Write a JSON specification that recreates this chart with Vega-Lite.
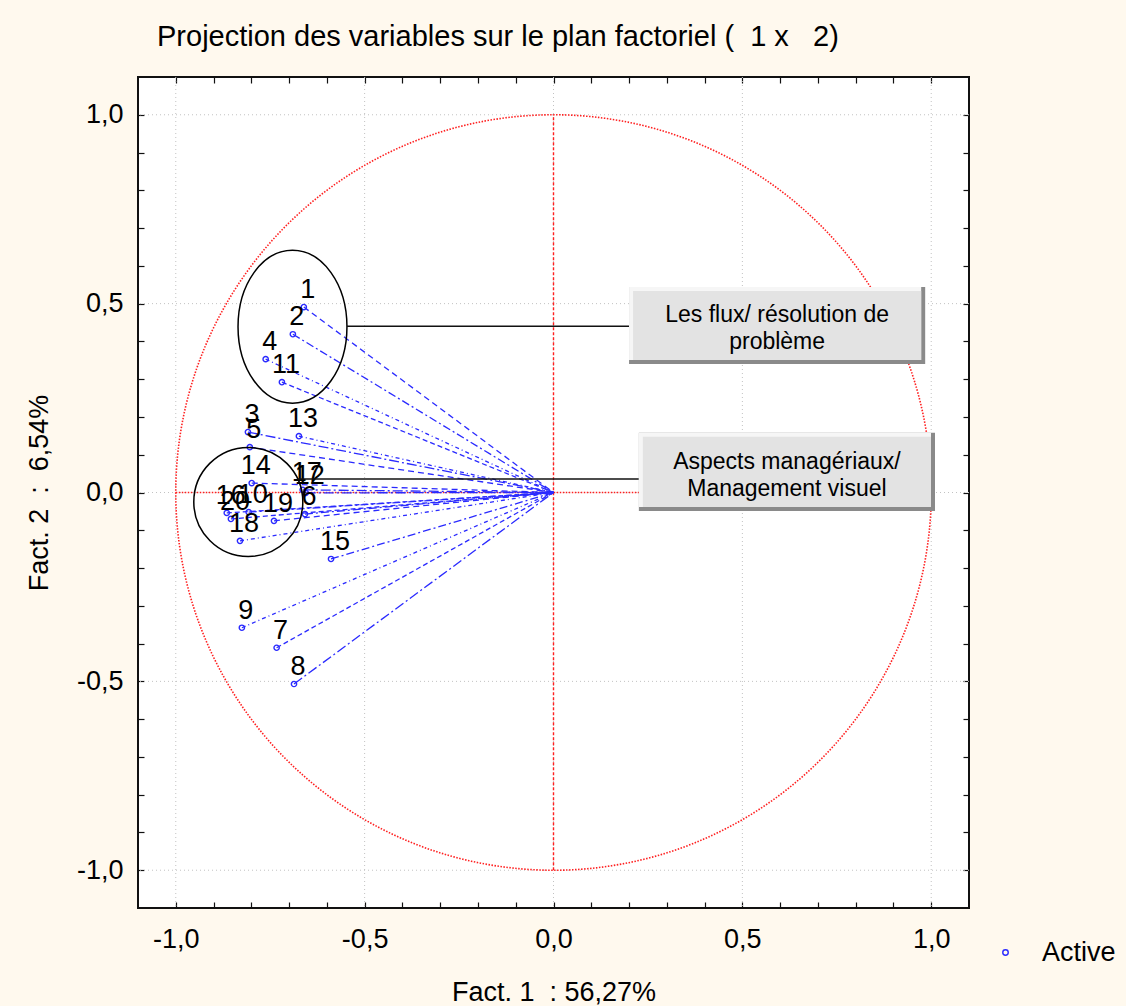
{
  "$schema": "https://vega.github.io/schema/vega-lite/v6.json",
  "width": 831,
  "height": 831,
  "autosize": "none",
  "padding": {"left": 138, "top": 77, "right": 157, "bottom": 98},
  "background": "#fff9ee",
  "config": {
    "font": "Liberation Sans",
    "view": {"fill": "white", "stroke": "#111111", "strokeWidth": 2},
    "locale": {"number": {"decimal": ",", "thousands": " ", "grouping": [3], "currency": ["", " €"], "minus": "-"}},
    "axis": {
      "domain": false, "grid": false, "tickSize": -6, "tickColor": "#111111", "tickWidth": 1.2,
      "labelFont": "Liberation Sans", "labelFontSize": 27, "labelColor": "#000000",
      "labelOverlap": false, "labelFlush": false,
      "titleFont": "Liberation Sans", "titleFontSize": 27, "titleFontWeight": "normal", "titleColor": "#000000"
    }
  },
  "title": {
    "text": "Projection des variables sur le plan factoriel ( \u00a01 x \u00a0 2)",
    "anchor": "start", "frame": "group", "dx": 19, "offset": 1, "baseline": "alphabetic",
    "fontSize": 29, "fontWeight": "normal", "color": "#000000", "font": "Liberation Sans"
  },
  "datasets": {
    "vars": [
      {"id": "1", "x": -0.661, "y": 0.491, "type": "Active"},
      {"id": "2", "x": -0.690, "y": 0.419, "type": "Active"},
      {"id": "3", "x": -0.809, "y": 0.160, "type": "Active"},
      {"id": "4", "x": -0.762, "y": 0.353, "type": "Active"},
      {"id": "5", "x": -0.804, "y": 0.120, "type": "Active"},
      {"id": "6", "x": -0.658, "y": -0.057, "type": "Active"},
      {"id": "7", "x": -0.733, "y": -0.411, "type": "Active"},
      {"id": "8", "x": -0.687, "y": -0.507, "type": "Active"},
      {"id": "9", "x": -0.825, "y": -0.358, "type": "Active"},
      {"id": "10", "x": -0.807, "y": -0.052, "type": "Active"},
      {"id": "11", "x": -0.719, "y": 0.292, "type": "Active"},
      {"id": "12", "x": -0.656, "y": -0.001, "type": "Active"},
      {"id": "13", "x": -0.674, "y": 0.149, "type": "Active"},
      {"id": "14", "x": -0.799, "y": 0.025, "type": "Active"},
      {"id": "15", "x": -0.589, "y": -0.176, "type": "Active"},
      {"id": "16", "x": -0.865, "y": -0.054, "type": "Active"},
      {"id": "17", "x": -0.664, "y": 0.007, "type": "Active"},
      {"id": "18", "x": -0.830, "y": -0.128, "type": "Active"},
      {"id": "19", "x": -0.740, "y": -0.075, "type": "Active"},
      {"id": "20", "x": -0.854, "y": -0.070, "type": "Active"}
    ],
    "grid": [{"v": -1}, {"v": -0.5}, {"v": 0}, {"v": 0.5}, {"v": 1}],
    "origin": [{"x": 0, "y": 0}],
    "links": [
      {"x": -0.547, "x2": 0.200, "y": 0.440},
      {"x": -0.678, "x2": 0.226, "y": 0.036}
    ],
    "boxes": [
      {"x": 0.200, "x2": 0.984, "y": 0.544, "y2": 0.340, "xc": 0.592, "yc": 0.470, "text": "Les flux/ résolution de\nproblème"},
      {"x": 0.226, "x2": 1.010, "y": 0.158, "y2": -0.049, "xc": 0.618, "yc": 0.081, "text": "Aspects managériaux/\nManagement visuel"}
    ]
  },
  "layer": [
    {
      "data": {"name": "vars"},
      "mark": {"type": "point", "opacity": 0},
      "encoding": {
        "x": {
          "field": "x", "type": "quantitative",
          "scale": {"domain": [-1.1, 1.1], "nice": false, "zero": false},
          "axis": {
            "orient": "bottom",
            "values": [-1, -0.9, -0.8, -0.7, -0.6, -0.5, -0.4, -0.3, -0.2, -0.1, 0, 0.1, 0.2, 0.3, 0.4, 0.5, 0.6, 0.7, 0.8, 0.9, 1],
            "format": ".1f",
            "labelExpr": "abs(datum.value*2-round(datum.value*2))<0.01 ? datum.label : ''",
            "labelPadding": 24,
            "title": "Fact. 1 \u00a0: 56,27%",
            "titlePadding": 27
          }
        },
        "y": {
          "field": "y", "type": "quantitative",
          "scale": {"domain": [-1.1, 1.1], "nice": false, "zero": false},
          "axis": {
            "orient": "left",
            "values": [-1, -0.9, -0.8, -0.7, -0.6, -0.5, -0.4, -0.3, -0.2, -0.1, 0, 0.1, 0.2, 0.3, 0.4, 0.5, 0.6, 0.7, 0.8, 0.9, 1],
            "format": ".1f",
            "labelExpr": "abs(datum.value*2-round(datum.value*2))<0.01 ? datum.label : ''",
            "labelPadding": 21,
            "title": "Fact. 2 \u00a0: \u00a06,54%",
            "titlePadding": 23
          }
        }
      }
    },
    {
      "data": {"name": "vars"},
      "mark": {"type": "point", "opacity": 0},
      "encoding": {
        "x": {
          "field": "x", "type": "quantitative",
          "axis": {
            "orient": "top", "labels": false, "title": null,
            "values": [-1, -0.9, -0.8, -0.7, -0.6, -0.5, -0.4, -0.3, -0.2, -0.1, 0, 0.1, 0.2, 0.3, 0.4, 0.5, 0.6, 0.7, 0.8, 0.9, 1]
          }
        },
        "y": {
          "field": "y", "type": "quantitative",
          "axis": {
            "orient": "right", "labels": false, "title": null,
            "values": [-1, -0.9, -0.8, -0.7, -0.6, -0.5, -0.4, -0.3, -0.2, -0.1, 0, 0.1, 0.2, 0.3, 0.4, 0.5, 0.6, 0.7, 0.8, 0.9, 1]
          }
        }
      }
    },
    {
      "data": {"name": "grid"},
      "mark": {"type": "rule", "color": "#c2c2c2", "strokeDash": [1, 3], "strokeWidth": 1},
      "encoding": {"x": {"field": "v", "type": "quantitative", "axis": null}}
    },
    {
      "data": {"name": "grid"},
      "mark": {"type": "rule", "color": "#c2c2c2", "strokeDash": [1, 3], "strokeWidth": 1},
      "encoding": {"y": {"field": "v", "type": "quantitative", "axis": null}}
    },
    {
      "data": {"name": "origin"},
      "mark": {"type": "point", "shape": "circle", "filled": false, "size": 570780, "color": "#ff2020", "strokeWidth": 1.6, "strokeDash": [1.5, 1.5], "opacity": 1},
      "encoding": {
        "x": {"field": "x", "type": "quantitative", "axis": null},
        "y": {"field": "y", "type": "quantitative", "axis": null}
      }
    },
    {
      "data": {"values": [{"x": -1, "x2": 1, "y": 0}]},
      "mark": {"type": "rule", "color": "#ff2020", "strokeWidth": 1.6, "strokeDash": [1.5, 1.5]},
      "encoding": {
        "x": {"field": "x", "type": "quantitative", "axis": null},
        "x2": {"field": "x2"},
        "y": {"field": "y", "type": "quantitative", "axis": null}
      }
    },
    {
      "data": {"values": [{"x": 0, "y": -1, "y2": 1}]},
      "mark": {"type": "rule", "color": "#ff2020", "strokeWidth": 1.4, "strokeDash": [3, 2]},
      "encoding": {
        "x": {"field": "x", "type": "quantitative", "axis": null},
        "y": {"field": "y", "type": "quantitative", "axis": null},
        "y2": {"field": "y2"}
      }
    },
    {
      "data": {"name": "vars"},
      "mark": {"type": "rule", "color": "#2a2aff", "strokeWidth": 1.3},
      "encoding": {
        "x": {"field": "x", "type": "quantitative", "axis": null},
        "y": {"field": "y", "type": "quantitative", "axis": null},
        "x2": {"datum": 0},
        "y2": {"datum": 0},
        "strokeDash": {
          "field": "id", "type": "nominal", "legend": null,
          "scale": {"range": [[6, 4], [8, 3, 2, 3], [5, 3], [10, 3, 2, 3], [4, 3, 1, 3]]}
        }
      }
    },
    {
      "data": {"name": "vars"},
      "mark": {"type": "point", "shape": "circle", "filled": false, "size": 28, "strokeWidth": 1.4, "opacity": 1},
      "encoding": {
        "x": {"field": "x", "type": "quantitative", "axis": null},
        "y": {"field": "y", "type": "quantitative", "axis": null},
        "color": {
          "field": "type", "type": "nominal",
          "scale": {"domain": ["Active"], "range": ["#2a2aff"]},
          "legend": {
            "orient": "none", "legendX": 854, "legendY": 862, "title": null, "padding": 0,
            "labelFont": "Liberation Sans", "labelFontSize": 27, "labelColor": "#000000",
            "symbolSize": 30, "symbolStrokeWidth": 1.4, "labelOffset": 23
          }
        }
      }
    },
    {
      "data": {"name": "vars"},
      "mark": {"type": "text", "align": "center", "baseline": "alphabetic", "dx": 4, "dy": -9, "fontSize": 27, "color": "#000000"},
      "encoding": {
        "x": {"field": "x", "type": "quantitative", "axis": null},
        "y": {"field": "y", "type": "quantitative", "axis": null},
        "text": {"field": "id"}
      }
    },
    {
      "data": {"values": [{"x": -0.691, "y": 0.439}]},
      "mark": {"type": "point", "shape": "M -0.712 0 A 0.712 1 0 1 1 0.712 0 A 0.712 1 0 1 1 -0.712 0 Z", "filled": false, "size": 23409, "color": "#000000", "strokeWidth": 1.5, "opacity": 1},
      "encoding": {
        "x": {"field": "x", "type": "quantitative", "axis": null},
        "y": {"field": "y", "type": "quantitative", "axis": null}
      }
    },
    {
      "data": {"values": [{"x": -0.808, "y": -0.025}]},
      "mark": {"type": "point", "shape": "circle", "filled": false, "size": 11881, "color": "#000000", "strokeWidth": 1.5, "opacity": 1},
      "encoding": {
        "x": {"field": "x", "type": "quantitative", "axis": null},
        "y": {"field": "y", "type": "quantitative", "axis": null}
      }
    },
    {
      "data": {"name": "links"},
      "mark": {"type": "rule", "color": "#111111", "strokeWidth": 1.5},
      "encoding": {
        "x": {"field": "x", "type": "quantitative", "axis": null},
        "x2": {"field": "x2"},
        "y": {"field": "y", "type": "quantitative", "axis": null}
      }
    },
    {
      "data": {"name": "boxes"},
      "mark": {"type": "rect", "color": "#8a8a8a"},
      "encoding": {
        "x": {"field": "x", "type": "quantitative", "axis": null},
        "x2": {"field": "x2"},
        "y": {"field": "y", "type": "quantitative", "axis": null},
        "y2": {"field": "y2"}
      }
    },
    {
      "data": {"name": "boxes"},
      "mark": {"type": "rect", "color": "#f6f6f6", "x2Offset": -4, "y2Offset": -4},
      "encoding": {
        "x": {"field": "x", "type": "quantitative", "axis": null},
        "x2": {"field": "x2"},
        "y": {"field": "y", "type": "quantitative", "axis": null},
        "y2": {"field": "y2"}
      }
    },
    {
      "data": {"name": "boxes"},
      "mark": {"type": "rect", "color": "#e3e3e3", "xOffset": 4, "x2Offset": -4, "yOffset": 4, "y2Offset": -4},
      "encoding": {
        "x": {"field": "x", "type": "quantitative", "axis": null},
        "x2": {"field": "x2"},
        "y": {"field": "y", "type": "quantitative", "axis": null},
        "y2": {"field": "y2"}
      }
    },
    {
      "data": {"name": "boxes"},
      "mark": {"type": "text", "align": "center", "baseline": "middle", "lineBreak": "\n", "lineHeight": 27, "fontSize": 23, "color": "#000000"},
      "encoding": {
        "x": {"field": "xc", "type": "quantitative", "axis": null},
        "y": {"field": "yc", "type": "quantitative", "axis": null},
        "text": {"field": "text"}
      }
    }
  ]
}
